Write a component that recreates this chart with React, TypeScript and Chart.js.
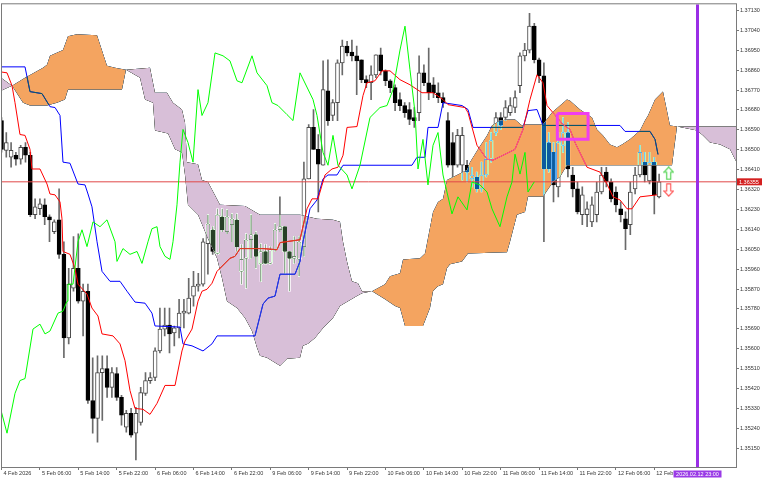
import React, { useEffect, useRef } from "react";
import { Chart, registerables } from "chart.js";

// Cloud is painted in an XNOR-like mode (as MT4 does): difference with colour, then difference with white.
const kumoBlend = {
  id: "kumoBlend",
  beforeDatasetDraw(chart: any, args: any) {
    const ds: any = chart.data.datasets[args.index];
    if (ds && ds.kumoBlend) {
      chart.ctx.save();
      chart.ctx.globalCompositeOperation = "difference";
    }
  },
  afterDatasetDraw(chart: any, args: any) {
    const ds: any = chart.data.datasets[args.index];
    if (ds && ds.kumoBlend) chart.ctx.restore();
  },
};
Chart.register(kumoBlend);
Chart.register(...registerables);

// ---------- axis ----------
const X_MIN = -0.104;
const X_MAX = 153.02;
const Y_MIN = 1.35065;
const Y_MAX = 1.37158;

const timeTickIdx = [0, 8, 16, 24, 32, 40, 48, 56, 64, 72, 80, 88, 96, 104, 112, 120, 128, 136];
const timeTickText = [
  "4 Feb 2026", "5 Feb 06:00", "5 Feb 14:00", "5 Feb 22:00", "6 Feb 06:00", "6 Feb 14:00",
  "6 Feb 22:00", "9 Feb 06:00", "9 Feb 14:00", "9 Feb 22:00", "10 Feb 06:00", "10 Feb 14:00",
  "10 Feb 22:00", "11 Feb 06:00", "11 Feb 14:00", "11 Feb 22:00", "12 Feb 06:00", "12 Feb 14:00",
];
const priceTicks = [
  1.3713, 1.3704, 1.3695, 1.3686, 1.3677, 1.3668, 1.3659, 1.365, 1.3641, 1.3632, 1.3623, 1.3614,
  1.3605, 1.3596, 1.3587, 1.3578, 1.3569, 1.356, 1.3551, 1.3542, 1.3533, 1.3524, 1.3515,
];

// ---------- candles (H1, index 0 = 4 Feb 22:00) ----------
const open = [
  1.36632, 1.36497, 1.36466, 1.36475, 1.36457, 1.36511, 1.36475, 1.36206, 1.36233, 1.36251,
  1.36197, 1.36129, 1.36183, 1.36027, 1.35649, 1.35874, 1.35964, 1.35815, 1.3586, 1.35366,
  1.35285, 1.35492, 1.3551, 1.35425, 1.35488, 1.3538, 1.35245, 1.35308, 1.35218, 1.35267,
  1.35398, 1.35456, 1.3547, 1.3559, 1.35689, 1.35707, 1.35671, 1.35694, 1.35761, 1.35761,
  1.35838, 1.35883, 1.35892, 1.36075, 1.36138, 1.36031, 1.36197, 1.36129, 1.36161, 1.36183,
  1.3595, 1.36009, 1.36093, 1.36116, 1.35982, 1.3604, 1.35986, 1.36048, 1.36138, 1.36152,
  1.3604, 1.36009, 1.36004, 1.36062, 1.36368, 1.36601, 1.36502, 1.3643, 1.36767, 1.36655,
  1.36713, 1.36893, 1.36969, 1.36942, 1.36925, 1.36907, 1.36817, 1.36803, 1.36839, 1.36929,
  1.36857, 1.36812, 1.36781, 1.36727, 1.367, 1.36682, 1.36646, 1.36668, 1.36848, 1.36803,
  1.36794, 1.36758, 1.36736, 1.36632, 1.36533, 1.3643, 1.3643, 1.3643, 1.36368, 1.36377,
  1.36323, 1.36386, 1.36457, 1.36578, 1.36646, 1.36646, 1.36668, 1.36691, 1.3679, 1.36925,
  1.36951, 1.37059, 1.36907, 1.36835, 1.36533, 1.36488, 1.36332, 1.3652, 1.36578, 1.36386,
  1.36323, 1.36206, 1.36206, 1.36174, 1.36206, 1.36309, 1.36399, 1.36354, 1.36309, 1.36233,
  1.36188, 1.36161, 1.36323, 1.36386, 1.36444, 1.36359, 1.36444, 1.36287,
];
const high = [
  1.36646, 1.36578, 1.36533, 1.36488, 1.3652, 1.36533, 1.36488, 1.36278, 1.36278, 1.36278,
  1.36206, 1.36183, 1.36323, 1.36084, 1.35964, 1.36107, 1.3612, 1.35892, 1.35892, 1.35559,
  1.35568, 1.35568, 1.35568, 1.35515, 1.35515, 1.35389, 1.35321, 1.3533, 1.35335, 1.35425,
  1.35492, 1.35492, 1.35604, 1.35784, 1.35784, 1.35784, 1.35703, 1.35824, 1.35824, 1.35919,
  1.3595, 1.35941, 1.36098, 1.36206, 1.36152, 1.36233, 1.36233, 1.36228, 1.3621, 1.3621,
  1.36071, 1.3612, 1.36206, 1.36129, 1.36075, 1.36071, 1.36062, 1.36165, 1.36287, 1.36152,
  1.3604, 1.36107, 1.36107, 1.36444, 1.36614, 1.36682, 1.36569, 1.36902, 1.36907, 1.36727,
  1.36907, 1.36996, 1.36991, 1.36996, 1.36969, 1.36907, 1.36835, 1.3688, 1.36929, 1.3696,
  1.36862, 1.36817, 1.36794, 1.36758, 1.36713, 1.36713, 1.36691, 1.36925, 1.36884, 1.3696,
  1.36826, 1.36803, 1.36758, 1.36668, 1.36578, 1.36592, 1.36601, 1.36452, 1.36421, 1.36399,
  1.36444, 1.36533, 1.36578, 1.36668, 1.36668, 1.36722, 1.36736, 1.36767, 1.36938, 1.36982,
  1.37117, 1.37072, 1.36915, 1.36893, 1.36578, 1.36533, 1.36578, 1.36646, 1.36623, 1.36421,
  1.36354, 1.36332, 1.36264, 1.36287, 1.36354, 1.36421, 1.36421, 1.36368, 1.36332, 1.36264,
  1.36219, 1.36354, 1.36421, 1.3652, 1.36488, 1.36488, 1.36466, 1.3639,
];
const low = [
  1.36489, 1.36466, 1.36421, 1.3643, 1.36435, 1.36444, 1.36197, 1.36188, 1.36206, 1.36161,
  1.36084, 1.3612, 1.36009, 1.35559, 1.35622, 1.3586, 1.35806, 1.35658, 1.35353, 1.35218,
  1.35177, 1.35276, 1.3538, 1.3538, 1.35366, 1.35254, 1.35222, 1.352, 1.35097, 1.35254,
  1.35389, 1.35443, 1.35456, 1.35581, 1.35658, 1.35581, 1.35613, 1.35649, 1.35694, 1.35757,
  1.35793, 1.3586, 1.35883, 1.35937, 1.36027, 1.36027, 1.36129, 1.3612, 1.36084, 1.3604,
  1.35892, 1.35874, 1.36009, 1.35964, 1.35905, 1.35982, 1.35982, 1.3604, 1.36129, 1.35941,
  1.3586, 1.35986, 1.35928, 1.36018, 1.36368, 1.36502, 1.36219, 1.3643, 1.3661, 1.36632,
  1.36632, 1.36839, 1.36925, 1.36902, 1.36749, 1.36803, 1.36781, 1.36727, 1.36826, 1.36839,
  1.3679, 1.36758, 1.36677, 1.36677, 1.36646, 1.36614, 1.36601, 1.36632, 1.3679, 1.36727,
  1.36736, 1.36713, 1.36691, 1.36421, 1.36376, 1.36421, 1.36363, 1.36354, 1.36332, 1.36309,
  1.36309, 1.36377, 1.36444, 1.36565, 1.36592, 1.36632, 1.36655, 1.36668, 1.36758, 1.36902,
  1.36938, 1.36893, 1.36803, 1.36084, 1.36399, 1.36264, 1.36287, 1.36488, 1.36377, 1.36287,
  1.3621, 1.36161, 1.36152, 1.36152, 1.36174, 1.363, 1.36332, 1.36264, 1.36219, 1.36174,
  1.36048, 1.36116, 1.363, 1.36377, 1.36354, 1.36345, 1.3621, 1.36282,
];
const close = [
  1.36502, 1.36533, 1.36497, 1.36457, 1.36511, 1.36475, 1.36206, 1.36242, 1.36255, 1.36197,
  1.36183, 1.36174, 1.36027, 1.35649, 1.35892, 1.35964, 1.35815, 1.3586, 1.35366, 1.35285,
  1.35492, 1.3551, 1.35425, 1.35492, 1.3538, 1.35299, 1.35308, 1.35209, 1.35308, 1.35402,
  1.35456, 1.3547, 1.3559, 1.35689, 1.35707, 1.35667, 1.35694, 1.35761, 1.3577, 1.35829,
  1.35883, 1.35892, 1.36084, 1.36165, 1.3604, 1.36206, 1.36138, 1.36197, 1.36188, 1.36062,
  1.36004, 1.36093, 1.36116, 1.36018, 1.3604, 1.35986, 1.36048, 1.36138, 1.36152, 1.3604,
  1.36009, 1.36018, 1.36084, 1.36368, 1.36601, 1.36502, 1.36435, 1.36772, 1.36632, 1.36713,
  1.36893, 1.36969, 1.36938, 1.36925, 1.36902, 1.36817, 1.36803, 1.36839, 1.36929, 1.36857,
  1.36812, 1.36781, 1.36713, 1.367, 1.36668, 1.36637, 1.36632, 1.36848, 1.36803, 1.36758,
  1.36758, 1.36736, 1.36713, 1.3643, 1.3643, 1.36565, 1.36565, 1.36399, 1.36386, 1.36323,
  1.36386, 1.36457, 1.36542, 1.36646, 1.3661, 1.36691, 1.367, 1.36736, 1.36925, 1.36951,
  1.37059, 1.36907, 1.36835, 1.36413, 1.36413, 1.36341, 1.36533, 1.36578, 1.36413, 1.36323,
  1.36219, 1.36296, 1.36233, 1.36251, 1.36309, 1.36386, 1.36354, 1.36278, 1.36251, 1.36206,
  1.36143, 1.36309, 1.36386, 1.36488, 1.36386, 1.36444, 1.36296, 1.36355,
];

// ---------- Ichimoku lines: [bar index, price] ----------
const tenkan = [
  [-0.1, 1.36852], [1.15, 1.36848], [2.19, 1.3679], [2.81, 1.36713], [3.85, 1.36569], [4.9, 1.36565],
  [5.94, 1.36502], [6.35, 1.36413], [8.02, 1.36413], [9.48, 1.36345], [10.1, 1.363], [11.15, 1.36296],
  [12.19, 1.36264], [12.6, 1.36188], [12.8, 1.3604], [14.27, 1.36027], [15.31, 1.35964], [15.94, 1.35892],
  [17.81, 1.35847], [18.85, 1.35784], [20.1, 1.35748], [20.94, 1.35667], [23.23, 1.35658], [24.69, 1.35622],
  [25.73, 1.35546], [26.77, 1.35411], [27.81, 1.3533], [29.48, 1.35326], [30.94, 1.35303], [32.4, 1.35353],
  [34.06, 1.35434], [36.15, 1.35434], [37.6, 1.3559], [38.23, 1.35635], [39.69, 1.35689], [40.94, 1.35815],
  [41.77, 1.3586], [42.81, 1.35869], [43.85, 1.35896], [44.9, 1.3595], [47.6, 1.36009], [48.65, 1.36018],
  [49.69, 1.36053], [54.48, 1.36053], [57.4, 1.36048], [58.02, 1.3608], [62.19, 1.36093], [63.65, 1.36233],
  [64.69, 1.36278], [65.94, 1.36278], [67.4, 1.36386], [68.85, 1.36413], [70.1, 1.36421], [71.15, 1.36475],
  [71.98, 1.36601], [74.06, 1.36605], [75.31, 1.36745], [76.15, 1.36803], [77.81, 1.36812], [79.27, 1.36857],
  [80.94, 1.36857], [83.02, 1.36817], [85.1, 1.36794], [87.6, 1.36758], [89.9, 1.36758], [91.98, 1.36727],
  [93.02, 1.36704], [96.56, 1.36691], [97.19, 1.36668], [99.06, 1.3652], [101.15, 1.36457], [102.4, 1.36453],
  [104.48, 1.36475], [106.98, 1.36502], [108.65, 1.36592], [110.1, 1.36727], [111.56, 1.36839], [112.81, 1.36803],
  [113.65, 1.367], [116.98, 1.36614], [118.44, 1.36592], [119.48, 1.36533], [121.98, 1.36421], [124.69, 1.36399],
  [126.15, 1.36345], [127.4, 1.36287], [128.85, 1.36273], [130.31, 1.36233], [131.35, 1.36233], [133.02, 1.36287],
  [136.56, 1.36296],
];
const kijun = [
  [-0.1, 1.36875], [4.9, 1.36875], [5.94, 1.36763], [8.44, 1.36754], [10.1, 1.36695], [11.15, 1.36691],
  [12.19, 1.36655], [12.81, 1.36444], [14.27, 1.36439], [15.94, 1.36345], [17.4, 1.36341], [18.02, 1.363],
  [18.85, 1.36242], [19.9, 1.36084], [20.94, 1.3595], [22.6, 1.35905], [24.69, 1.35905], [26.15, 1.3586],
  [27.81, 1.35811], [29.9, 1.35806], [31.35, 1.35761], [31.98, 1.35703], [37.19, 1.35698], [37.81, 1.35622],
  [39.69, 1.35613], [41.98, 1.3559], [43.85, 1.35622], [44.9, 1.35658], [52.81, 1.35658], [54.48, 1.35802],
  [55.52, 1.35829], [56.98, 1.35838], [58.02, 1.35937], [61.15, 1.35937], [62.19, 1.35995], [62.81, 1.36084],
  [64.27, 1.36233], [65.73, 1.36273], [66.98, 1.36368], [68.02, 1.36386], [69.9, 1.36386], [71.15, 1.3643],
  [85.52, 1.3643], [86.56, 1.36466], [88.23, 1.36466], [88.85, 1.36601], [90.94, 1.36601], [91.98, 1.36713],
  [95.94, 1.367], [97.19, 1.36682], [98.23, 1.36601], [108.65, 1.36601], [109.69, 1.36677], [111.56, 1.36682],
  [112.81, 1.3661], [128.85, 1.3661], [129.9, 1.36583], [135.1, 1.36583], [136.15, 1.36547], [136.77, 1.36479],
];
const chikou = [
  [-0.1, 1.35321], [1.15, 1.35218], [2.81, 1.35398], [3.85, 1.35456], [4.9, 1.35465], [6.56, 1.35689],
  [8.02, 1.35711], [9.06, 1.35667], [10.1, 1.3568], [11.77, 1.35761], [12.81, 1.3577], [13.65, 1.35815],
  [13.85, 1.35892], [14.9, 1.35892], [15.94, 1.36084], [16.77, 1.36138], [17.81, 1.36062], [19.06, 1.36174],
  [20.52, 1.36152], [21.98, 1.36183], [23.65, 1.36084], [24.06, 1.35995], [25.31, 1.36053], [26.77, 1.36027],
  [28.23, 1.3604], [29.27, 1.35986], [30.52, 1.36084], [31.35, 1.36143], [32.4, 1.36152], [33.02, 1.36062],
  [34.06, 1.36018], [35.1, 1.36004], [35.73, 1.36084], [36.56, 1.36251], [37.19, 1.36444], [37.81, 1.36592],
  [38.85, 1.36533], [39.9, 1.36444], [40.94, 1.36772], [41.77, 1.36655], [43.02, 1.36713], [44.48, 1.36938],
  [46.15, 1.36925], [47.6, 1.36902], [49.06, 1.36812], [50.1, 1.36803], [52.19, 1.36925], [53.23, 1.36848],
  [55.31, 1.3679], [56.35, 1.36713], [57.6, 1.367], [59.48, 1.36659], [60.73, 1.36632], [62.19, 1.36848],
  [64.9, 1.36727], [65.73, 1.36655], [66.98, 1.36488], [68.02, 1.3643], [69.06, 1.36565], [70.1, 1.3643],
  [71.98, 1.36386], [73.02, 1.36323], [74.69, 1.3643], [76.77, 1.36646], [78.85, 1.36691], [80.31, 1.367],
  [81.56, 1.36772], [83.02, 1.36951], [84.06, 1.37059], [85.1, 1.36862], [86.15, 1.36668], [86.77, 1.36413],
  [87.81, 1.36547], [88.85, 1.36341], [89.9, 1.3652], [90.94, 1.36578], [91.98, 1.36386], [93.85, 1.3621],
  [95.1, 1.36287], [96.98, 1.36228], [98.02, 1.36354], [99.69, 1.36341], [101.15, 1.36309], [102.19, 1.36233],
  [103.85, 1.36152], [105.31, 1.36287], [106.35, 1.36354], [106.98, 1.3648], [108.02, 1.3639], [109.06, 1.36488],
  [109.69, 1.36309], [111, 1.36355],
];
const senkouA = [
  [-0.1, 1.36767], [2.19, 1.3679], [4.9, 1.36826], [8.65, 1.36871], [9.48, 1.36884], [10.1, 1.36925],
  [12.81, 1.36951], [13.85, 1.37014], [15.73, 1.37023], [19.9, 1.37018], [21.98, 1.3688], [23.65, 1.36871],
  [25.94, 1.36862], [28.85, 1.36826], [29.9, 1.36727], [31.56, 1.36713], [31.98, 1.36587], [34.69, 1.36574],
  [36.15, 1.36502], [37.6, 1.36488], [38.23, 1.36386], [38.85, 1.36251], [40.94, 1.36206], [43.02, 1.36098],
  [44.9, 1.36009], [45.94, 1.35919], [46.98, 1.35815], [49.06, 1.35784], [50.73, 1.35739], [52.19, 1.3568],
  [53.23, 1.35604], [53.85, 1.35568], [55.31, 1.35559], [58.02, 1.35523], [59.48, 1.35555], [62.19, 1.35559],
  [62.81, 1.35613], [63.85, 1.35622], [65.31, 1.35649], [67.0, 1.35694], [69.06, 1.35739], [70.52, 1.35793],
  [72.19, 1.35815], [74.06, 1.35838], [75.1, 1.35851], [77.19, 1.3586], [79.9, 1.35892], [80.94, 1.35928],
  [83.02, 1.35941], [83.65, 1.36004], [87.19, 1.36009], [88.23, 1.36031], [89.9, 1.36219], [90.94, 1.36264],
  [91.98, 1.36278], [92.81, 1.36363], [96.98, 1.36408], [97.6, 1.36444], [99.27, 1.36502], [101.15, 1.36565],
  [102.19, 1.3661], [103.85, 1.36632], [105.31, 1.36637], [106.98, 1.36637], [108.44, 1.3661], [109.06, 1.36614],
  [112.81, 1.36614], [114.69, 1.36668], [117.81, 1.36727], [118.44, 1.36722], [120.52, 1.36682], [123.02, 1.36646],
  [124.06, 1.36592], [125.31, 1.36565], [126.77, 1.36524], [128.23, 1.36511], [129.27, 1.36524], [130.94, 1.36547],
  [133.02, 1.36587], [134.06, 1.36632], [134.69, 1.36655], [136.15, 1.36727], [137.81, 1.36763], [139.27, 1.3661],
  [140.73, 1.36605], [144.9, 1.36587], [146.15, 1.36565], [147.6, 1.36533], [149.69, 1.36524], [151.77, 1.36502],
  [152.81, 1.36457], [153.44, 1.36435],
];
const senkouB = [
  [-0.1, 1.36826], [2.19, 1.3679], [4.48, 1.36713], [5.94, 1.367], [9.48, 1.367], [11.56, 1.36713],
  [13.23, 1.36727], [13.85, 1.36772], [25.1, 1.36772], [25.94, 1.36862], [30.94, 1.36871], [31.98, 1.36758],
  [34.48, 1.36758], [35.73, 1.36713], [37.6, 1.36682], [38.23, 1.36623], [38.65, 1.36444], [40.94, 1.36435],
  [41.77, 1.36363], [43.02, 1.36354], [45.52, 1.36251], [50.73, 1.36246], [53.85, 1.36206], [62.19, 1.36206],
  [65.73, 1.36188], [69.06, 1.36183], [70.52, 1.36174], [71.15, 1.36084], [71.98, 1.35995], [73.02, 1.35905],
  [74.27, 1.35896], [75.1, 1.3586], [77.19, 1.3586], [79.9, 1.35824], [81.98, 1.35793], [83.02, 1.35784],
  [84.06, 1.35703], [87.81, 1.35703], [89.27, 1.35784], [89.9, 1.3586], [90.94, 1.35883], [91.98, 1.35892],
  [92.81, 1.35964], [93.44, 1.35982], [95.94, 1.35995], [97.19, 1.36031], [105.31, 1.36036], [105.94, 1.36084],
  [107.4, 1.36206], [109.06, 1.36219], [109.69, 1.36287], [112.81, 1.36287], [114.9, 1.36354], [116.35, 1.36377],
  [117.81, 1.3643], [139.69, 1.3643], [140.73, 1.36605], [153.44, 1.36605],
];
// bar-index ranges where Span A is above Span B (bullish cloud) / below it (bearish cloud)
const kumoUpSpans = [[2.19, 25.94], [77.19, 140.73]];
const kumoDownSpans = [[-0.1, 2.19], [25.94, 77.19], [140.73, 153.44]];

// ---------- objects ----------
const boxTimes = [115.8, 122.2];
const boxPrices = [1.36664, 1.36547];
const markerIndex = 145;
const markerLabel = "2026.02.12 23:00";
const arrowIndex = 139;
const upArrowPrice = 1.36394;
const downArrowPrice = 1.36318;

const KUMO_UP = "#f4a460";
const KUMO_DN = "#d8bfd8";
const FONT = "'Liberation Sans', Arial, sans-serif";

function arrowCanvas(up: boolean, color: string) {
  const c = document.createElement("canvas");
  c.width = 11;
  c.height = 14;
  const g = c.getContext("2d")!;
  g.strokeStyle = color;
  g.lineWidth = 1.2;
  const shape = [[5.5, 0.8], [10.2, 6], [7.5, 6], [7.5, 13.2], [3.5, 13.2], [3.5, 6], [0.8, 6]];
  g.beginPath();
  shape.forEach(([x, y], k) => {
    const yy = up ? y : 14 - y;
    if (k) g.lineTo(x, yy);
    else g.moveTo(x, yy);
  });
  g.closePath();
  g.stroke();
  return c;
}

export default function App() {
  const ref = useRef<HTMLCanvasElement>(null);

  useEffect(() => {
    const canvas = ref.current;
    if (!canvas) return;
    const pts = (a: number[][]) => a.map(([x, y]) => ({ x, y }));
    const n = close.length;
    const idx = Array.from({ length: n }, (_, i) => i);
    const bull = idx.map((i) => close[i] >= open[i]);
    const lastPrice = close[n - 1];
    const tickFont = { family: FONT, size: 5.5 };

    const bgPlugin = {
      id: "bgWhite",
      beforeDraw(chart: any) {
        const c = chart.ctx;
        c.save();
        c.fillStyle = "#ffffff";
        c.fillRect(0, 0, chart.width, chart.height);
        c.restore();
      },
    };
    // clip a dataset to the inside of the cloud (used for the tinted copies of Tenkan/Kijun)
    const kumoClip = {
      id: "kumoClip",
      beforeDatasetDraw(chart: any, args: any) {
        const ds: any = chart.data.datasets[args.index];
        if (!ds || !ds.kumoClip) return;
        const { ctx, chartArea: a, scales } = chart;
        const xs = scales.x;
        const ys = scales.y;
        ctx.save();
        ctx.beginPath();
        senkouA.forEach(([px, py], k) => {
          const X = xs.getPixelForValue(px);
          const Y = ys.getPixelForValue(py);
          if (k) ctx.lineTo(X, Y);
          else ctx.moveTo(X, Y);
        });
        for (let k = senkouB.length - 1; k >= 0; k--) {
          ctx.lineTo(xs.getPixelForValue(senkouB[k][0]), ys.getPixelForValue(senkouB[k][1]));
        }
        ctx.closePath();
        ctx.clip();
        ctx.beginPath();
        const spans = ds.kumoClip === "up" ? kumoUpSpans : kumoDownSpans;
        for (const [s, e] of spans) {
          const l = xs.getPixelForValue(s);
          const r = xs.getPixelForValue(e);
          ctx.rect(l, a.top - 5, r - l, a.bottom - a.top + 10);
        }
        ctx.clip();
      },
      afterDatasetDraw(chart: any, args: any) {
        const ds: any = chart.data.datasets[args.index];
        if (ds && ds.kumoClip) chart.ctx.restore();
      },
    };
    const overlayPlugin = {
      id: "overlay",
      afterDraw(chart: any) {
        const { ctx, chartArea: a, scales } = chart;
        ctx.save();
        ctx.strokeStyle = "#7a7a7a";
        ctx.lineWidth = 1;
        ctx.strokeRect(a.left + 0.5, a.top - 0.5, a.right - a.left, a.bottom - a.top + 1);
        const py = scales.y.getPixelForValue(lastPrice);
        ctx.fillStyle = "#d42020";
        ctx.fillRect(a.right + 1, py - 3.5, 25, 7);
        ctx.fillStyle = "#ffffff";
        ctx.font = `5.5px ${FONT}`;
        ctx.textBaseline = "middle";
        ctx.textAlign = "left";
        ctx.fillText(lastPrice.toFixed(5), a.right + 3, py + 0.3);
        const mx = scales.x.getPixelForValue(markerIndex);
        ctx.fillStyle = "#9a3be6";
        ctx.fillRect(mx - 24, a.bottom + 3.5, 48, 7);
        ctx.fillStyle = "#ffffff";
        ctx.textAlign = "center";
        ctx.fillText(markerLabel, mx, a.bottom + 7.2);
        ctx.restore();
      },
    };

    const line = (data: any[], color: string, order: number, width = 1) => ({
      type: "line",
      data,
      borderColor: color,
      borderWidth: width,
      pointRadius: 0,
      tension: 0,
      fill: false,
      order,
    });

    const datasets: any[] = [
      // 0,1: coloured cloud pass
      {
        type: "line", label: "Senkou Span A", data: pts(senkouA), borderWidth: 0, pointRadius: 0,
        backgroundColor: KUMO_UP, fill: { target: 1, above: KUMO_UP, below: KUMO_DN }, kumoBlend: true, order: 30,
      },
      { type: "line", label: "Senkou Span B", data: pts(senkouB), borderWidth: 0, pointRadius: 0, fill: false, order: 29 },
      // 2,3: white pass (restores XNOR look)
      {
        type: "line", data: pts(senkouA), borderWidth: 0, pointRadius: 0, backgroundColor: "#ffffff",
        fill: { target: 3, above: "#ffffff", below: "#ffffff" }, kumoBlend: true, order: 28,
      },
      { type: "line", data: pts(senkouB), borderWidth: 0, pointRadius: 0, fill: false, order: 27 },
      // candles (under the cloud)
      {
        type: "bar", label: "wick", data: idx.map((i) => ({ x: i, y: [low[i], high[i]] })),
        backgroundColor: "#6a6a6a", borderWidth: 0, barThickness: 1, grouped: false, order: 60,
      },
      {
        type: "bar", label: "body", data: idx.map((i) => ({ x: i, y: [open[i], close[i]] })),
        backgroundColor: idx.map((i) => (bull[i] ? "#ffffff" : "#000000")),
        borderColor: idx.map((i) => (bull[i] ? "#4a4a4a" : "#000000")),
        borderWidth: 1, borderSkipped: false, barThickness: 4, minBarLength: 1, grouped: false, order: 55,
      },
      // lines on top of the cloud
      line([{ x: X_MIN, y: lastPrice }, { x: X_MAX, y: lastPrice }], "#e04848", 22),
      line(pts(kijun), "#0000ff", 21),
      line(pts(tenkan), "#ff0000", 20),
      { ...line(pts(kijun), "#0b5b60", 18), kumoClip: "up" },
      { ...line(pts(tenkan), "#f45b9f", 17), kumoClip: "up" },
      { ...line(pts(kijun), "#2740d8", 16), kumoClip: "down" },
      { ...line(pts(tenkan), "#d84027", 15), kumoClip: "down" },
      line(pts(chikou), "#00ff00", 12),
      {
        ...line(
          [
            { x: boxTimes[0], y: boxPrices[0] }, { x: boxTimes[1], y: boxPrices[0] },
            { x: boxTimes[1], y: boxPrices[1] }, { x: boxTimes[0], y: boxPrices[1] },
            { x: boxTimes[0], y: boxPrices[0] },
          ],
          "#f03ef0", 10, 3,
        ),
        borderJoinStyle: "miter",
      },
      line([{ x: markerIndex, y: Y_MIN }, { x: markerIndex, y: Y_MAX }], "#9a2ee6", 5, 3),
      {
        type: "line", data: [{ x: arrowIndex, y: upArrowPrice }], showLine: false, pointRadius: 5,
        pointStyle: arrowCanvas(true, "#55d455"), order: 1,
      },
      {
        type: "line", data: [{ x: arrowIndex, y: downArrowPrice }], showLine: false, pointRadius: 5,
        pointStyle: arrowCanvas(false, "#ff5a5a"), order: 1,
      },
    ];

    const chart = new Chart(canvas, {
      type: "line",
      data: { datasets },
      options: {
        responsive: false,
        animation: false,
        devicePixelRatio: 1,
        events: [],
        layout: { padding: { left: 1, top: 1, right: 0, bottom: 0 }, autoPadding: false },
        plugins: { legend: { display: false }, tooltip: { enabled: false }, colors: { enabled: false } },
        scales: {
          x: {
            type: "linear",
            min: X_MIN,
            max: X_MAX,
            offset: false,
            grid: { display: true, drawOnChartArea: false, drawTicks: true, tickLength: 3, color: "#777777", offset: false },
            border: { display: true, color: "#7a7a7a" },
            ticks: {
              align: "start",
              maxRotation: 0,
              minRotation: 0,
              autoSkip: false,
              padding: 0,
              labelOffset: 2,
              font: tickFont,
              color: "#333333",
              callback: (v: any) => {
                const k = timeTickIdx.indexOf(Number(v));
                return k >= 0 ? timeTickText[k] : "";
              },
            },
            afterBuildTicks: (s: any) => {
              s.ticks = timeTickIdx.map((v) => ({ value: v }));
            },
            afterFit: (s: any) => {
              s.height = 13;
            },
          },
          y: {
            type: "linear",
            position: "right",
            min: Y_MIN,
            max: Y_MAX,
            grid: { display: true, drawOnChartArea: false, drawTicks: true, tickLength: 3, color: "#777777" },
            border: { display: true, color: "#7a7a7a" },
            ticks: {
              padding: 1,
              font: tickFont,
              color: "#333333",
              callback: (v: any) => Number(v).toFixed(5),
            },
            afterBuildTicks: (s: any) => {
              s.ticks = priceTicks.map((v) => ({ value: v }));
            },
            afterFit: (s: any) => {
              s.width = 32;
            },
          },
        },
      } as any,
      plugins: [bgPlugin, kumoClip, overlayPlugin],
    });
    return () => chart.destroy();
  }, []);

  return (
    <div style={{ position: "absolute", left: 0, top: 0, width: 768, height: 480, background: "#ffffff" }}>
      <canvas ref={ref} width={768} height={480} style={{ display: "block" }} />
    </div>
  );
}
